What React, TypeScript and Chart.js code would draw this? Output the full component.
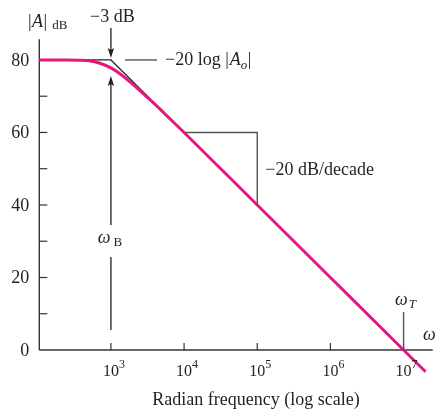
import React, { useEffect, useRef } from 'react';
import { Chart, registerables } from 'chart.js';

Chart.register(...registerables);

// Magnitude response (rad/s, dB)
const freqRad = [105, 250, 355, 501, 708, 1000, 1413, 1995, 2818, 3981, 6310, 1e4, 1e5, 1e6, 1e7, 2e7];
const gainDb = [80, 80, 79.95, 79.8, 79.1, 77.8, 75.8, 73.3, 70.6, 67.8, 63.9, 60, 40, 20, 0, -6];
// Straight-line asymptote (corner)
const asymFreq = [105, 1000, 1e4];
const asymDb = [80, 80, 60];
// Axes
const yMajorTicks = [0, 20, 40, 60, 80];
const yMinorTicks = [10, 30, 50, 70];
const xTickExponents = [3, 4, 5, 6, 7];
const xMin = 105;
const xMax = 2.5e7;
const yMin = 0;
const yMax = 85.7;
// Annotation anchors
const cornerFreq = 1000;
const unityFreq = 1e7;
const slopeFreqs = [1e4, 1e5];
const slopeDbs = [60, 40];

const SERIF = '"Liberation Serif", "Times New Roman", serif';
const TEXT = '#231f20';
const AXIS = '#333333';
const GRAY = '#555555';
const PINK = '#e6177f';

type Run = { text: string; size: number; italic?: boolean; dy?: number; gap?: number };

function fontOf(r: Run) {
  return `${r.italic ? 'italic ' : ''}${r.size}px ${SERIF}`;
}

function drawRuns(ctx: CanvasRenderingContext2D, x: number, y: number, runs: Run[], align: 'left' | 'center' | 'right' = 'left') {
  let w = 0;
  for (const r of runs) {
    ctx.font = fontOf(r);
    w += ctx.measureText(r.text).width + (r.gap || 0);
  }
  let cx = align === 'center' ? x - w / 2 : align === 'right' ? x - w : x;
  ctx.textAlign = 'left';
  ctx.textBaseline = 'alphabetic';
  ctx.fillStyle = TEXT;
  for (const r of runs) {
    ctx.font = fontOf(r);
    ctx.fillText(r.text, cx, y + (r.dy || 0));
    cx += ctx.measureText(r.text).width + (r.gap || 0);
  }
}

function line(ctx: CanvasRenderingContext2D, x1: number, y1: number, x2: number, y2: number) {
  ctx.beginPath();
  ctx.moveTo(x1, y1);
  ctx.lineTo(x2, y2);
  ctx.stroke();
}

function arrowHead(ctx: CanvasRenderingContext2D, x: number, tipY: number, dir: 1 | -1) {
  // dir 1: pointing down, -1: pointing up
  ctx.beginPath();
  ctx.moveTo(x, tipY);
  ctx.lineTo(x - 3.2, tipY - dir * 10);
  ctx.lineTo(x, tipY - dir * 8);
  ctx.lineTo(x + 3.2, tipY - dir * 10);
  ctx.closePath();
  ctx.fill();
}

const bodePlugin = {
  id: 'bodeDecor',
  beforeDatasetsDraw(chart: any) {
    const ctx: CanvasRenderingContext2D = chart.ctx;
    const xs = chart.scales.x;
    const ys = chart.scales.y;
    const left = xs.getPixelForValue(xMin);
    const right = xs.getPixelForValue(xMax);
    const y0 = ys.getPixelForValue(0);
    const top = ys.getPixelForValue(yMax);
    ctx.save();
    ctx.strokeStyle = AXIS;
    ctx.lineWidth = 1.4;
    line(ctx, left, top, left, y0);
    line(ctx, left, y0, right, y0);
    // y ticks
    ctx.lineWidth = 1.2;
    for (const v of [...yMajorTicks, ...yMinorTicks]) {
      if (v === 0) continue;
      const py = ys.getPixelForValue(v);
      line(ctx, left, py, left + 8, py);
    }
    for (const e of xTickExponents) {
      const px = xs.getPixelForValue(Math.pow(10, e));
      line(ctx, px, y0, px, y0 - 7);
    }
    ctx.restore();
  },
  afterDatasetsDraw(chart: any) {
    const ctx: CanvasRenderingContext2D = chart.ctx;
    const xs = chart.scales.x;
    const ys = chart.scales.y;
    const left = xs.getPixelForValue(xMin);
    const y0 = ys.getPixelForValue(0);
    ctx.save();
    // y tick labels
    for (const v of yMajorTicks) {
      drawRuns(ctx, left - 10, ys.getPixelForValue(v) + 6, [{ text: String(v), size: 18 }], 'right');
    }
    // x tick labels: "10" centred on the tick, exponent hanging right
    for (const e of xTickExponents) {
      const px = xs.getPixelForValue(Math.pow(10, e));
      ctx.font = `16px ${SERIF}`;
      const w10 = ctx.measureText('10').width;
      drawRuns(ctx, px - w10 / 2, y0 + 26, [
        { text: '10', size: 16 },
        { text: String(e), size: 12, dy: -8 },
      ], 'left');
    }
    drawRuns(ctx, 256, y0 + 55, [{ text: 'Radian frequency (log scale)', size: 18 }], 'center');
    // |A|dB
    drawRuns(ctx, 28, 26.5, [
      { text: '|', size: 18, gap: 0.5 },
      { text: 'A', size: 18, italic: true, gap: 0.5 },
      { text: '|', size: 18, gap: 5 },
      { text: 'dB', size: 13, dy: 2 },
    ]);
    const cx = xs.getPixelForValue(cornerFreq);
    const y80 = ys.getPixelForValue(80);
    // -3 dB label and arrows
    drawRuns(ctx, cx + 1.5, 21.5, [{ text: '\u22123 dB', size: 18 }], 'center');
    ctx.strokeStyle = TEXT;
    ctx.fillStyle = TEXT;
    ctx.lineWidth = 1.3;
    line(ctx, cx, 28, cx, y80 - 6);
    arrowHead(ctx, cx, y80 - 2, 1);
    const upTip = y80 + 16;
    line(ctx, cx, upTip + 6, cx, 225);
    arrowHead(ctx, cx, upTip, -1);
    line(ctx, cx, 257, cx, 330);
    drawRuns(ctx, cx - 1, 243, [
      { text: '\u03c9', size: 18, italic: true, gap: 3 },
      { text: 'B', size: 13, dy: 3 },
    ], 'center');
    // -20 log|Ao|
    ctx.strokeStyle = GRAY;
    ctx.lineWidth = 1.4;
    line(ctx, 125, y80, 157, y80);
    drawRuns(ctx, 165, y80 + 5, [
      { text: '\u221220 log ', size: 18 },
      { text: '|', size: 18, gap: 1 },
      { text: 'A', size: 18, italic: true },
      { text: 'o', size: 13, italic: true, dy: 4, gap: 0.5 },
      { text: '|', size: 18 },
    ]);
    // slope triangle
    const sx1 = xs.getPixelForValue(slopeFreqs[0]);
    const sx2 = xs.getPixelForValue(slopeFreqs[1]);
    const sy1 = ys.getPixelForValue(slopeDbs[0]);
    const sy2 = ys.getPixelForValue(slopeDbs[1]);
    ctx.beginPath();
    ctx.moveTo(sx1 + 1, sy1);
    ctx.lineTo(sx2, sy1);
    ctx.lineTo(sx2, sy2);
    ctx.stroke();
    drawRuns(ctx, sx2 + 8, (sy1 + sy2) / 2 + 6, [{ text: '\u221220 dB/decade', size: 18 }]);
    // omega_T
    const tx = xs.getPixelForValue(unityFreq);
    ctx.strokeStyle = GRAY;
    line(ctx, tx, 312, tx, y0);
    drawRuns(ctx, tx + 2, 305, [
      { text: '\u03c9', size: 18, italic: true, gap: 1 },
      { text: 'T', size: 13, italic: true, dy: 3 },
    ], 'center');
    drawRuns(ctx, 423, 340, [{ text: '\u03c9', size: 18, italic: true }]);
    ctx.restore();
  },
};

export default function App() {
  const ref = useRef<HTMLCanvasElement | null>(null);
  useEffect(() => {
    document.body.style.margin = '0';
    const canvas = ref.current;
    if (!canvas) return;
    const chart = new Chart(canvas, {
      type: 'line',
      data: {
        datasets: [
          {
            label: '|A| dB',
            data: freqRad.map((f, i) => ({ x: f, y: gainDb[i] })),
            borderColor: PINK,
            borderWidth: 3,
            pointRadius: 0,
            cubicInterpolationMode: 'monotone',
            clip: false as any,
            order: 1,
          },
          {
            label: 'asymptote',
            data: asymFreq.map((f, i) => ({ x: f, y: asymDb[i] })),
            borderColor: '#222222',
            borderWidth: 1.2,
            pointRadius: 0,
            tension: 0,
            order: 2,
          },
        ],
      },
      options: {
        responsive: false,
        animation: false,
        events: [],
        layout: { padding: { left: 39.3, right: 3.3, top: 39.3, bottom: 60 } },
        plugins: { legend: { display: false }, tooltip: { enabled: false } },
        scales: {
          x: { type: 'logarithmic', min: xMin, max: xMax, display: false },
          y: { type: 'linear', min: yMin, max: yMax, display: false },
        },
      },
      plugins: [bodePlugin],
    });
    return () => chart.destroy();
  }, []);
  return (
    <div style={{ position: 'absolute', left: 0, top: 0, width: 436, height: 410, background: '#fff' }}>
      <canvas ref={ref} width={436} height={410} />
    </div>
  );
}
